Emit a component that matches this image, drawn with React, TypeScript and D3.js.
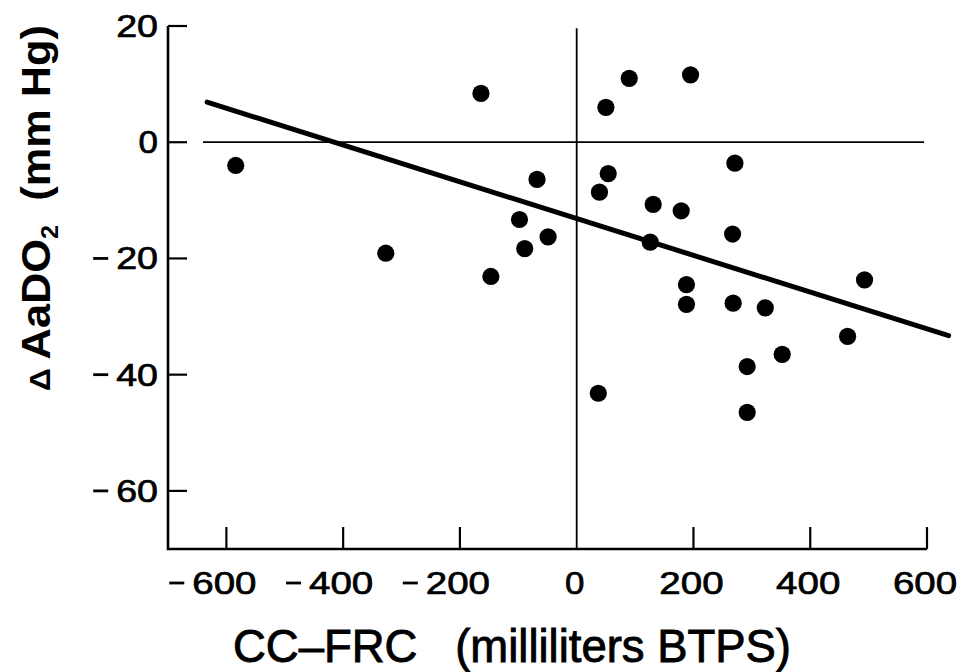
import React, { useEffect, useRef } from "react";
import * as d3 from "d3";

// CC-FRC (ml BTPS) vs change in AaDO2 (mm Hg)
const ccFrc = [
  -164, -584, -68, -98, -49, -89, -327, -147, 90, 195, 50, 271, 54, 39, 131,
  179, 267, 126, 493, 188, 188, 268, 323, 464, 352, 292, 37, 292,
];
const deltaAaDO2 = [
  8.4, -4.0, -6.4, -13.3, -16.3, -18.3, -19.1, -23.1, 11.0, 11.6, 6.0, -3.6,
  -5.4, -8.6, -10.7, -11.8, -15.8, -17.2, -23.7, -24.5, -27.9, -27.7, -28.5,
  -33.4, -36.5, -38.6, -43.2, -46.5,
];
// regression line end points [x, y]
const fitLine: [number, number][] = [
  [-633, 6.9],
  [637, -33.3],
];
const xTicks = [-600, -400, -200, 0, 200, 400, 600];
const yTicks = [20, 0, -20, -40, -60];
const xDomain = [-700, 600];
const yDomain = [-70, 20];

const FONT = "'Liberation Sans', Arial, Helvetica, sans-serif";

export default function App() {
  const ref = useRef<SVGSVGElement>(null);

  useEffect(() => {
    const svg = d3.select(ref.current);
    svg.selectAll("*").remove();

    const x = d3.scaleLinear().domain(xDomain).range([168, 927]);
    const y = d3.scaleLinear().domain(yDomain).range([549, 26]);

    const g = svg.append("g");

    // zero reference lines
    g.append("line")
      .attr("x1", x(-640))
      .attr("x2", x(595))
      .attr("y1", y(0))
      .attr("y2", y(0))
      .attr("stroke", "#000")
      .attr("stroke-width", 1.8);
    g.append("line")
      .attr("x1", x(0))
      .attr("x2", x(0))
      .attr("y1", y(19.6))
      .attr("y2", y(-70))
      .attr("stroke", "#000")
      .attr("stroke-width", 1.8);

    // axes
    g.append("path")
      .attr("d", `M${x(-700)},${y(20)}V${y(-70)}H${x(600)}`)
      .attr("fill", "none")
      .attr("stroke", "#000")
      .attr("stroke-width", 2.6);
    g.selectAll(".xtick")
      .data(xTicks.filter((d) => d !== 0))
      .enter()
      .append("line")
      .attr("x1", (d) => x(d))
      .attr("x2", (d) => x(d))
      .attr("y1", y(-70))
      .attr("y2", y(-70) - 22)
      .attr("stroke", "#000")
      .attr("stroke-width", 2.2);
    g.selectAll(".ytick")
      .data(yTicks)
      .enter()
      .append("line")
      .attr("x1", x(-700))
      .attr("x2", x(-700) + 19)
      .attr("y1", (d) => y(d))
      .attr("y2", (d) => y(d))
      .attr("stroke", "#000")
      .attr("stroke-width", 2.2);

    // tick labels: digits stretched wide, minus hung to the left
    const label = (v: number, px: number, base: number, anchor: string) => {
      const s = String(Math.abs(v));
      const w = s.length * 22.4 - 3;
      g.append("text")
        .attr("x", px)
        .attr("y", base)
        .attr("text-anchor", anchor)
        .attr("font-family", FONT)
        .attr("font-size", 31)
        .attr("stroke", "#000")
        .attr("stroke-width", 0.7)
        .attr("textLength", w)
        .attr("lengthAdjust", "spacingAndGlyphs")
        .text(s);
      if (v < 0) {
        const left = anchor === "middle" ? px - w / 2 : px - w;
        g.append("line")
          .attr("x1", left - 23)
          .attr("x2", left - 8)
          .attr("y1", base - 11)
          .attr("y2", base - 11)
          .attr("stroke", "#000")
          .attr("stroke-width", 2.8);
      }
    };
    xTicks.forEach((d) => label(d, x(d) - 2, 594, "middle"));
    yTicks.forEach((d) => label(d, 158, y(d) + 11, "end"));

    // regression line
    g.append("path")
      .attr("d", d3.line()(fitLine.map(([a, b]) => [x(a), y(b)]) as [number, number][]))
      .attr("fill", "none")
      .attr("stroke", "#000")
      .attr("stroke-width", 5)
      .attr("stroke-linecap", "round");

    // data points
    g.selectAll(".dot")
      .data(ccFrc.map((v, i) => [v, deltaAaDO2[i]]))
      .enter()
      .append("circle")
      .attr("cx", (d) => x(d[0]))
      .attr("cy", (d) => y(d[1]))
      .attr("r", 8.6)
      .attr("fill", "#000");

    // axis titles
    g.append("text")
      .attr("x", 233)
      .attr("y", 662)
      .attr("font-family", FONT)
      .attr("font-size", 46)
      .attr("stroke", "#000")
      .attr("stroke-width", 0.9)
      .attr("textLength", 558)
      .attr("lengthAdjust", "spacingAndGlyphs")
      .style("white-space", "pre")
      .text("CC\u2013FRC   (milliliters BTPS)");

    const yt = g
      .append("text")
      .attr("transform", "translate(50,391) rotate(-90)")
      .attr("font-family", FONT)
      .attr("font-size", 41)
      .attr("font-weight", 700)
      .attr("textLength", 366)
      .attr("lengthAdjust", "spacingAndGlyphs")
      .style("white-space", "pre");
    yt.append("tspan").attr("font-size", 30).text("\u0394 ");
    yt.append("tspan").text("AaDO");
    yt.append("tspan").attr("font-size", 24).attr("dy", 8).text("2");
    yt.append("tspan").attr("dy", -8).text("  (mm Hg)");
  }, []);

  return (
    <svg
      ref={ref}
      width={964}
      height={672}
      style={{ position: "absolute", left: 0, top: 0, background: "#fff" }}
    />
  );
}
